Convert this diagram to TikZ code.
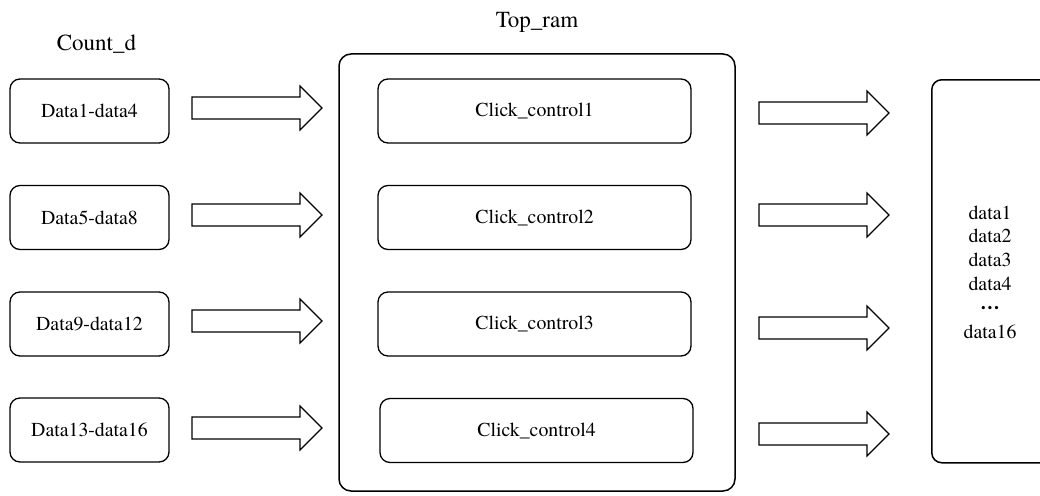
\documentclass[tikz,border=0pt]{standalone}
\usepackage{fontspec}
\setmainfont{TeX Gyre Termes}
\newcommand\blockarrow[3]{% #1 tail x, #2 tip x, #3 centre y
  \draw[blockarr] (#1,#3-11) -- (#2-22,#3-11) -- (#2-22,#3-22) -- (#2,#3)
    -- (#2-22,#3+22) -- (#2-22,#3+11) -- (#1,#3+11) -- cycle;}
\begin{document}
\begin{tikzpicture}[x=1pt,y=-1pt,
  box/.style={draw, line width=1.3pt, rounded corners=10pt, minimum height=64pt,
    inner sep=0pt, font=\fontsize{19.8}{23.8}\selectfont},
  srcbox/.style={box, minimum width=159pt},
  ctlbox/.style={box, minimum width=313pt},
  frame/.style={draw, line width=1.5pt, rounded corners=12pt, inner sep=0pt},
  blockarr/.style={draw, line width=1.1pt, line join=miter},
  title/.style={font=\fontsize{23}{27}\selectfont, anchor=base, inner sep=0pt}]
\useasboundingbox (0,0) rectangle (1040,495);

% titles
\node[title] (countd) at (96.5,51) {Count\_d};
\node[title] (topramlabel) at (537,28) {Top\_ram};

% Top_ram frame
\node[frame, minimum width=396pt, minimum height=437pt] (topram) at (537,272.5) {};

% output storage block (runs off the right edge)
\node[frame, rounded corners=10pt, minimum width=140pt, minimum height=383pt,
  anchor=north west] (store) at (931,79) {};
\node[align=center, inner sep=0pt, font=\fontsize{19.8}{23.8}\selectfont] (storetext) at (990,272)
  {data1\\data2\\data3\\data4\\\raisebox{5pt}{\textbf{…}}\\data16};

% source blocks
\node[srcbox] (s1) at (89.5,111) {Data1-data4};
\node[srcbox] (s2) at (89.5,217.5) {Data5-data8};
\node[srcbox] (s3) at (89.5,324) {Data9-data12};
\node[srcbox] (s4) at (89.5,430) {Data13-data16};

% clock controllers
\node[ctlbox] (c1) at (534.5,111) {Click\_control1};
\node[ctlbox] (c2) at (534.5,217.5) {Click\_control2};
\node[ctlbox] (c3) at (534.5,324) {Click\_control3};
\node[ctlbox] (c4) at (536.5,430.5) {Click\_control4};

% block arrows
\foreach \y in {108,215,321,428} {\blockarrow{192}{322}{\y}}
\foreach \y in {113,215,328,434} {\blockarrow{759}{889}{\y}}
\end{tikzpicture}
\end{document}
